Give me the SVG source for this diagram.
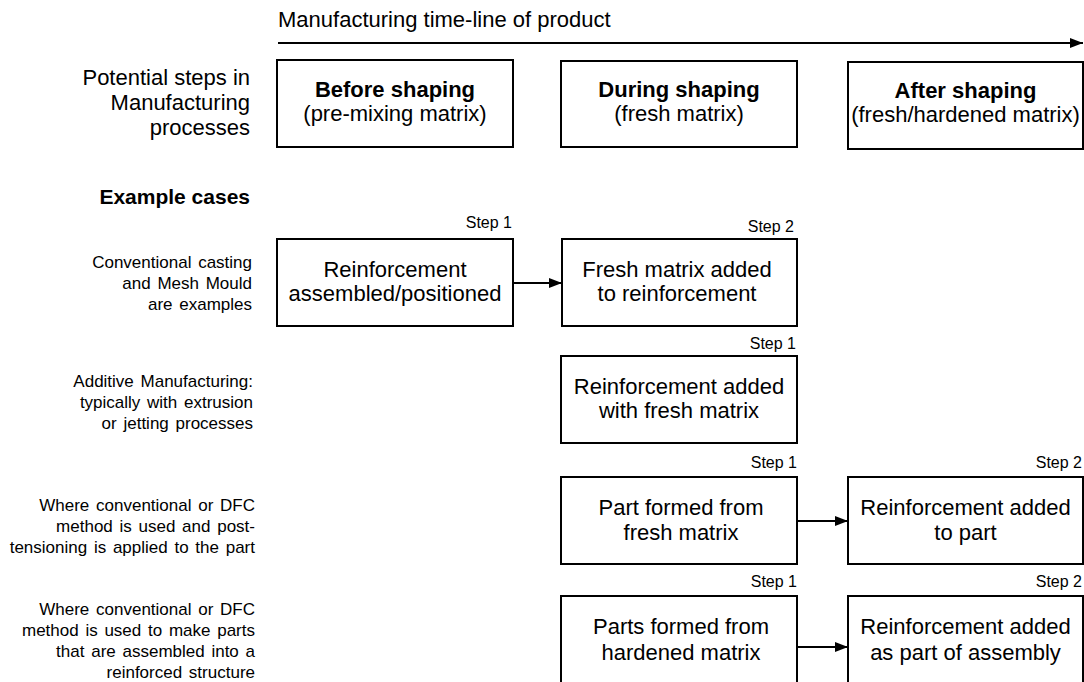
<svg xmlns="http://www.w3.org/2000/svg" width="1084" height="682" viewBox="0 0 1084 682">
<defs>
<style>
text{font-family:"Liberation Sans",Arial,sans-serif;fill:#000}
.main{font-size:22px;text-anchor:middle}
.b{font-weight:bold}
.lab{font-size:22px;text-anchor:end}
.ex{font-size:17px;text-anchor:end;word-spacing:2px}
.step{font-size:16px;text-anchor:end}
.box{fill:#fff;stroke:#000;stroke-width:2}
.conn{stroke:#000;stroke-width:2;fill:none;marker-end:url(#ah)}
</style>
<marker id="ah" markerUnits="userSpaceOnUse" markerWidth="13" markerHeight="10" refX="13" refY="5" orient="auto">
<path d="M0,0 L13,5 L0,10 z" fill="#000"/>
</marker>
</defs>
<rect width="1084" height="682" fill="#fff"/>

<g id="timeline">
<text x="278" y="27" style="font-size:22px">Manufacturing time-line of product</text>
</g>

<g id="row-labels">
<text class="lab" x="250" y="85">Potential steps in</text>
<text class="lab" x="250" y="110">Manufacturing</text>
<text class="lab" x="250" y="135">processes</text>
<text class="lab b" x="250" y="204" style="font-size:21px">Example cases</text>
<text class="ex" x="252" y="268">Conventional casting</text>
<text class="ex" x="252" y="289">and Mesh Mould</text>
<text class="ex" x="252" y="310">are examples</text>
<text class="ex" x="253" y="387">Additive Manufacturing:</text>
<text class="ex" x="253" y="408">typically with extrusion</text>
<text class="ex" x="253" y="429">or jetting processes</text>
<text class="ex" x="255" y="511">Where conventional or DFC</text>
<text class="ex" x="255" y="532">method is used and post-</text>
<text class="ex" x="255" y="553">tensioning is applied to the part</text>
<text class="ex" x="255" y="615">Where conventional or DFC</text>
<text class="ex" x="255" y="636">method is used to make parts</text>
<text class="ex" x="255" y="657">that are assembled into a</text>
<text class="ex" x="255" y="678">reinforced structure</text>
</g>

<g id="connectors">
<line class="conn" x1="278" y1="43" x2="1083" y2="43"/>
<line class="conn" x1="513" y1="283" x2="562" y2="283"/>
<line class="conn" x1="797" y1="521" x2="848" y2="521"/>
<line class="conn" x1="797" y1="647" x2="848" y2="647"/>
</g>

<g id="before-shaping">
<rect class="box" x="277" y="60" width="236" height="87"/>
<text class="main b" x="395" y="97">Before shaping</text>
<text class="main" x="395" y="121">(pre-mixing matrix)</text>
</g>
<g id="during-shaping">
<rect class="box" x="561" y="61" width="236" height="86"/>
<text class="main b" x="679" y="97">During shaping</text>
<text class="main" x="679" y="121">(fresh matrix)</text>
</g>
<g id="after-shaping">
<rect class="box" x="848" y="62" width="235" height="87"/>
<text class="main b" x="965.5" y="98">After shaping</text>
<text class="main" x="965.5" y="122">(fresh/hardened matrix)</text>
</g>

<g id="r1-step1">
<text class="step" x="512" y="228">Step 1</text>
<rect class="box" x="277" y="239" width="236" height="87"/>
<text class="main" x="395" y="277">Reinforcement</text>
<text class="main" x="395" y="301">assembled/positioned</text>
</g>
<g id="r1-step2">
<text class="step" x="794" y="232">Step 2</text>
<rect class="box" x="562" y="239" width="235" height="87"/>
<text class="main" x="677" y="277">Fresh matrix added</text>
<text class="main" x="677" y="301">to reinforcement</text>
</g>
<g id="r2-step1">
<text class="step" x="796" y="349">Step 1</text>
<rect class="box" x="561" y="356" width="236" height="87"/>
<text class="main" x="679" y="394">Reinforcement added</text>
<text class="main" x="679" y="418">with fresh matrix</text>
</g>
<g id="r3-step1">
<text class="step" x="797" y="468">Step 1</text>
<rect class="box" x="561" y="477" width="236" height="87"/>
<text class="main" x="681" y="515">Part formed from</text>
<text class="main" x="681" y="540">fresh matrix</text>
</g>
<g id="r3-step2">
<text class="step" x="1082" y="468">Step 2</text>
<rect class="box" x="848" y="477" width="235" height="87"/>
<text class="main" x="965.5" y="515">Reinforcement added</text>
<text class="main" x="965.5" y="540">to part</text>
</g>
<g id="r4-step1">
<text class="step" x="797" y="587">Step 1</text>
<rect class="box" x="561" y="596" width="236" height="100"/>
<text class="main" x="681" y="634">Parts formed from</text>
<text class="main" x="681" y="660">hardened matrix</text>
</g>
<g id="r4-step2">
<text class="step" x="1082" y="587">Step 2</text>
<rect class="box" x="848" y="596" width="235" height="100"/>
<text class="main" x="965.5" y="634">Reinforcement added</text>
<text class="main" x="965.5" y="660">as part of assembly</text>
</g>
</svg>
